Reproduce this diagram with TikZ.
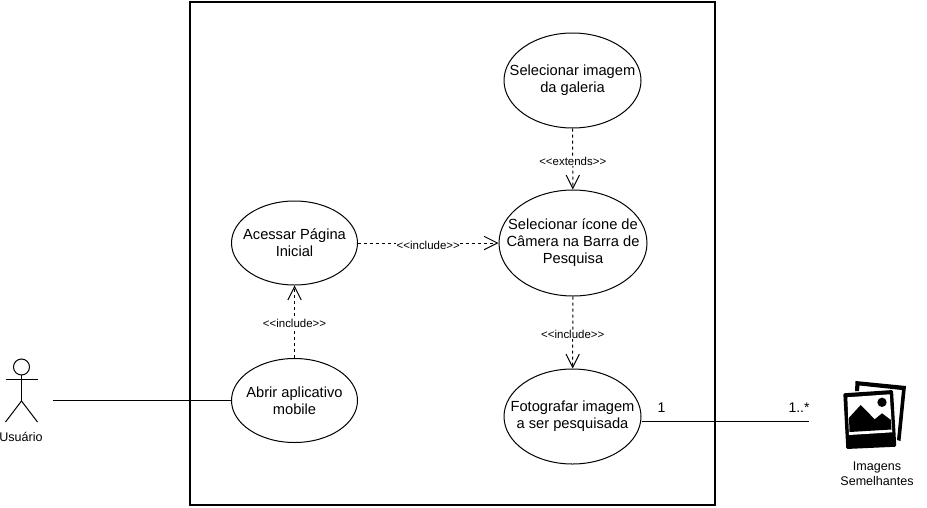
\documentclass[tikz,border=0pt]{standalone}
\usepackage{fontspec}
\setmainfont{Liberation Sans}
\usetikzlibrary{arrows.meta,shapes.geometric}
\tikzset{
	usecase/.style={draw, ellipse, line width=0.75pt, inner xsep=-25pt, inner ysep=0pt, align=center, font=\fontsize{11}{12.75}\selectfont},
	dep/.style={dash pattern=on 2.25pt off 2.25pt, line width=0.75pt, -{Straight Barb[length=10pt,width=10pt,line width=0.75pt]}},
	deplabel/.style={fill=white, inner sep=0.5pt, yshift=-1.5pt, font=\fontsize{8.6}{10}\selectfont},
	small/.style={align=center, font=\fontsize{9.4}{11.25}\selectfont},
	assoc/.style={line width=0.75pt},
	mult/.style={font=\fontsize{10.5}{12}\selectfont}
}
\begin{document}
\begin{tikzpicture}[x=0.75pt,y=-0.75pt]
	\useasboundingbox (0,0) rectangle (927,507);
	
	%%%%% SYSTEM %%%%%
	\draw[line width=1.5pt] (189.5,1.5) rectangle (715,505);
	
	%%%%% USE CASES %%%%%
	\node[usecase, minimum width=102.75pt, minimum height=71.25pt] (galeria) at (572.5,80.5) {Selecionar imagem\\da galeria};
	\node[usecase, minimum width=111pt, minimum height=79.5pt] (camera) at (573,243) {Selecionar ícone de\\Câmera na Barra de\\Pesquisa};
	\node[usecase, minimum width=94.5pt, minimum height=63pt] (inicial) at (294.5,243) {Acessar Página\\Inicial};
	\node[usecase, minimum width=94.5pt, minimum height=63pt] (abrir) at (294.5,400.5) {Abrir aplicativo\\mobile};
	\node[usecase, minimum width=102.75pt, minimum height=71.25pt] (foto) at (572.5,416.5) {Fotografar imagem\\a ser pesquisada};
	
	%%%%% ACTOR %%%%%
	\coordinate (hand) at (53,400.5);
	\draw[assoc] (21.5,367) circle (6pt);
	\draw[assoc] (21.5,375) -- (21.5,401);
	\draw[assoc] (5.5,379) -- (37.5,379);
	\draw[assoc] (5.5,422) -- (21.5,401) -- (37.5,422);
	\node[small] (usuario) at (21,436.5) {Usuário};
	
	%%%%% CONNECTORS %%%%%
	\draw[assoc] (hand) -- (abrir.west |- hand);
	\draw[dep] (abrir) -- node[deplabel, pos=0.5] {<{}<include>{}>} (inicial);
	\draw[dep] (inicial) -- node[deplabel, pos=0.5] {<{}<include>{}>} (camera);
	\draw[dep] (galeria) -- node[deplabel, pos=0.5] {<{}<extends>{}>} (camera);
	\draw[dep] (camera) -- node[deplabel, pos=0.5] {<{}<include>{}>} (foto);
	
	\coordinate (fotoend) at (809,421.5);
	\draw[assoc] (foto.east |- fotoend) -- (fotoend);
	\node[mult] (one) at (661.5,408) {1};
	\node[mult] (many) at (799,408) {1..*};
	
	%%%%% IMAGE ICON %%%%%
	\fill[black] (855.5,381) -- (906,386) -- (900.5,441) -- (897,440) -- (902,390) -- (859.5,385.5) -- (859,391) -- (855,391) -- cycle;
	\fill[black, rounded corners=1pt] (843.3,393.3) -- (893,390) -- (896.3,446.7) -- (846.3,449) -- cycle;
	\fill[white] (847.3,397.3) -- (889.7,394.3) -- (892.3,432.3) -- (849,435) -- cycle;
	\fill[black] (849,417.7) -- (860.7,405) -- (874.7,419.3) -- (882,413.3) -- (891,420) -- (891.5,429.5) -- (849.5,432) -- cycle;
	\fill[black] (882,402.3) circle (3.5pt);
	\node[small] (imagens) at (877,474) {Imagens\\Semelhantes};
\end{tikzpicture}
\end{document}
